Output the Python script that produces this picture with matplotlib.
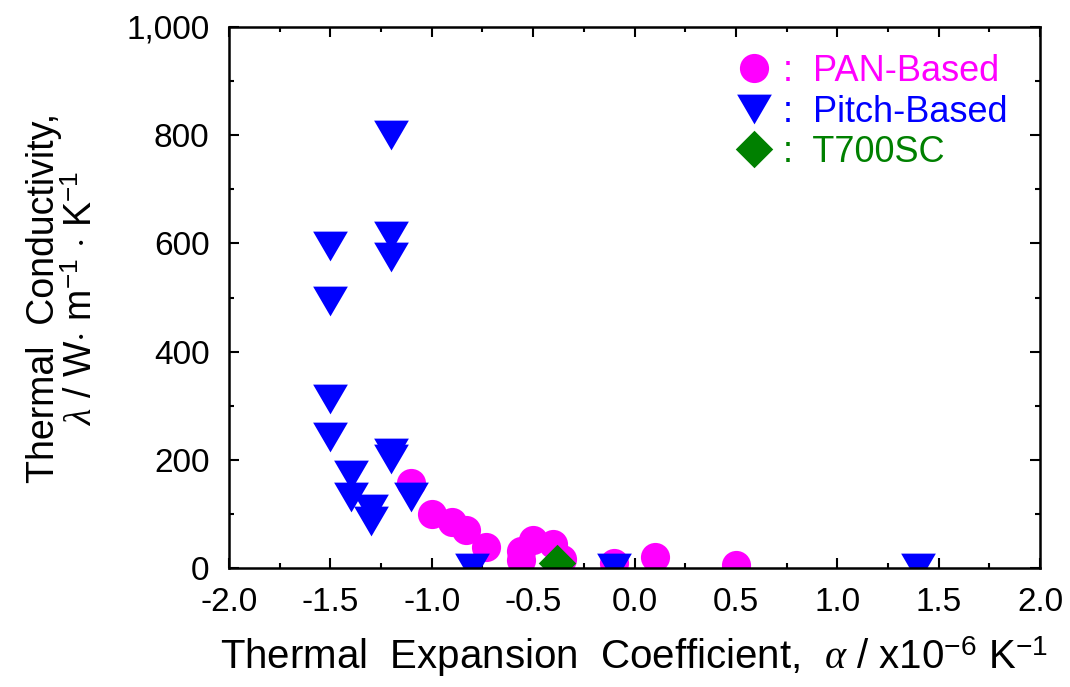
import matplotlib
matplotlib.use('Agg')
import matplotlib.pyplot as plt
from matplotlib.ticker import MultipleLocator, FuncFormatter
from matplotlib.lines import Line2D

plt.rcParams['font.family'] = ['Liberation Sans', 'DejaVu Sans']
plt.rcParams['mathtext.fontset'] = 'custom'
plt.rcParams['mathtext.rm'] = 'Liberation Sans'
plt.rcParams['mathtext.it'] = 'Liberation Serif:italic'
plt.rcParams['axes.unicode_minus'] = False

# PAN-based fibres
pan_cte = [-1.1, -1.0, -0.9, -0.83, -0.73, -0.56, -0.56, -0.5, -0.4, -0.36, -0.1, 0.1, 0.5]
pan_k = [158, 100, 85, 71, 39, 32, 15, 52, 45, 16, 10, 20, 6]

# Pitch-based fibres
pitch_cte = [-1.2, -1.5, -1.2, -1.2, -1.5, -1.5, -1.5, -1.2, -1.2,
             -1.4, -1.4, -1.3, -1.3, -1.1, -0.8, -0.1, 1.4]
pitch_k = [800, 595, 613, 574, 493, 312, 242, 212, 202,
           172, 132, 110, 86, 132, 0, 0, 0]

# T700SC
t700_cte = [-0.38]
t700_k = [9.4]

tri_down = [(-1, 0.857), (1, 0.857), (0, -0.857), (-1, 0.857)]
diamond = [(0, 1), (1, 0), (0, -1), (-1, 0), (0, 1)]

c_pan = '#FF00FF'
c_pitch = '#0000FF'
c_t700 = '#008000'

fig = plt.figure(figsize=(10.7, 6.87), dpi=100)
ax = fig.add_axes([0.214, 0.1732, 0.758, 0.7875])

ax.plot(pan_cte, pan_k, ls='none', marker='o', ms=21, mfc=c_pan, mec='none')
ax.plot(pitch_cte, pitch_k, ls='none', marker=tri_down, ms=25, mfc=c_pitch, mec='none')
ax.plot(t700_cte, t700_k, ls='none', marker=diamond, ms=27, mfc=c_t700, mec='none')

ax.set_xlim(-2.0, 2.0)
ax.set_ylim(0, 1000)
ax.xaxis.set_major_locator(MultipleLocator(0.5))
ax.xaxis.set_minor_locator(MultipleLocator(0.25))
ax.yaxis.set_major_locator(MultipleLocator(200))
ax.yaxis.set_minor_locator(MultipleLocator(100))
ax.xaxis.set_major_formatter(FuncFormatter(lambda v, p: f'{v:.1f}'))
ax.yaxis.set_major_formatter(FuncFormatter(lambda v, p: f'{v:,.0f}'))

ax.tick_params(which='both', direction='in', top=True, right=True, width=1.5)
ax.tick_params(which='major', length=7, labelsize=24)
ax.tick_params(axis='x', which='major', pad=14)
ax.tick_params(axis='y', which='major', pad=14)
ax.tick_params(which='minor', length=3.6)
for s in ax.spines.values():
    s.set_linewidth(1.8)

ax.set_xlabel('Thermal  Expansion  Coefficient,  $\\alpha$ / x10$^{-6}$ K$^{-1}$',
              fontsize=29, labelpad=11)
ax.set_ylabel('Thermal  Conductivity,\n$\\lambda$ / W$\\cdot$ m$^{-1}$ $\\cdot$ K$^{-1}$',
              fontsize=27, labelpad=19, linespacing=1.05)

handles = [
    Line2D([], [], ls='none', marker='o', ms=21, mfc=c_pan, mec='none'),
    Line2D([], [], ls='none', marker=tri_down, ms=25, mfc=c_pitch, mec='none'),
    Line2D([], [], ls='none', marker=diamond, ms=27, mfc=c_t700, mec='none'),
]
labels = [':  PAN-Based', ':  Pitch-Based', ':  T700SC']
ax.legend(handles, labels, loc='upper left', bbox_to_anchor=(0.585, 1.01),
          frameon=False, fontsize=26, labelcolor=[c_pan, c_pitch, c_t700],
          handlelength=1.0, handletextpad=0.3, labelspacing=0.15)

fig.savefig('out.png', dpi=100)
